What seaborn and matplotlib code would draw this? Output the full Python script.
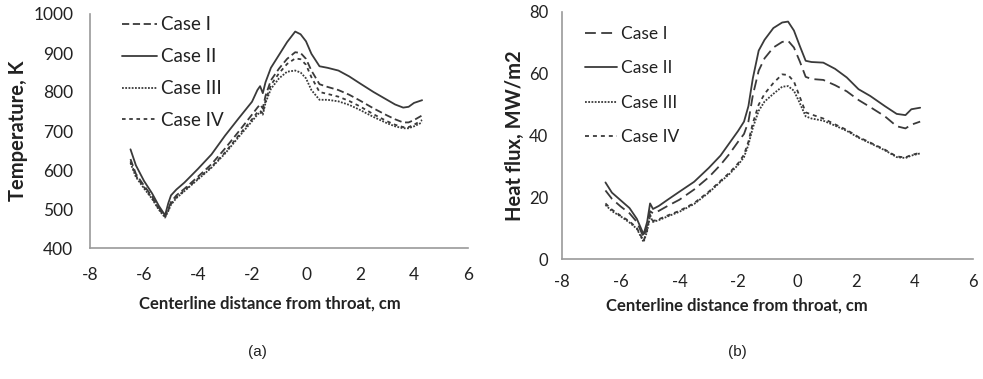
import matplotlib
matplotlib.use("Agg")
import matplotlib.pyplot as plt
import seaborn as sns
import pandas as pd
from matplotlib.ticker import MultipleLocator

# ---------------- data ----------------
cases = ["Case I", "Case II", "Case III", "Case IV"]

temp_x = [-6.5, -6.3, -6.0, -5.7, -5.45, -5.22, -5.1, -5.0, -4.8, -4.5, -4.0, -3.5, -3.0, -2.5,
          -2.0, -1.8, -1.7, -1.6, -1.5, -1.3, -1.0, -0.7, -0.4, -0.2, 0.0, 0.2, 0.5, 0.8, 1.2,
          1.6, 2.0, 2.5, 3.0, 3.3, 3.6, 3.8, 4.0, 4.3]
temp_case1 = [628, 590, 560, 532, 503, 482, 500, 518, 535, 552, 583, 615, 655, 698, 742, 760, 768,
              758, 790, 830, 860, 885, 902, 900, 885, 855, 820, 813, 805, 793, 778, 758, 740, 730,
              722, 722, 728, 740]
temp_case2 = [653, 612, 572, 540, 508, 484, 515, 535, 550, 568, 603, 640, 688, 732, 775, 805, 815,
              797, 825, 862, 895, 928, 955, 948, 930, 898, 866, 862, 855, 840, 822, 800, 780, 768,
              760, 762, 772, 779]
temp_case3 = [618, 582, 553, 526, 498, 478, 495, 511, 528, 546, 576, 606, 642, 684, 725, 742, 748,
              742, 772, 808, 835, 852, 855, 850, 835, 805, 780, 780, 776, 767, 754, 736, 720, 712,
              707, 707, 712, 722]
temp_case4 = [622, 585, 556, 528, 500, 480, 497, 513, 530, 548, 578, 608, 645, 688, 730, 748, 752,
              745, 778, 818, 848, 872, 886, 884, 870, 838, 800, 795, 788, 777, 763, 743, 725, 716,
              710, 710, 716, 728]

flux_x = [-6.52, -6.3, -6.0, -5.7, -5.45, -5.22, -5.1, -5.0, -4.9, -4.7, -4.4, -4.0, -3.5, -3.0,
          -2.6, -2.3, -2.0, -1.8, -1.65, -1.5, -1.3, -1.1, -0.8, -0.5, -0.3, -0.1, 0.1, 0.3, 0.5,
          0.9, 1.3, 1.7, 2.1, 2.5, 3.0, 3.4, 3.7, 3.9, 4.2]
flux_case1 = [22.2, 19.5, 17.0, 14.8, 12.0, 7.0, 11.0, 15.5, 14.8, 15.6, 17.2, 19.2, 22.5, 26.5,
              30.5, 34.0, 38.0, 40.5, 44.5, 53.0, 61.0, 65.0, 68.5, 70.3, 70.7, 68.5, 64.0, 59.0,
              58.3, 58.0, 56.3, 54.3, 51.5, 49.2, 46.2, 43.0, 42.3, 43.5, 44.5]
flux_case2 = [24.8, 21.5, 19.0, 16.5, 13.0, 8.0, 12.0, 18.0, 16.2, 17.2, 19.2, 21.8, 25.0, 29.5,
              33.5, 37.5, 41.5, 44.5, 49.5, 58.5, 67.5, 71.0, 74.8, 76.6, 76.9, 74.0, 69.0, 64.2,
              63.8, 63.6, 61.6, 58.8, 55.0, 52.8, 49.5, 47.0, 46.6, 48.5, 49.0]
flux_case3 = [17.5, 15.5, 13.8, 11.8, 9.8, 5.5, 9.0, 14.0, 12.0, 12.6, 13.8, 15.3, 17.8, 21.5,
              25.0, 27.5, 30.5, 33.0, 37.0, 42.5, 48.0, 51.0, 53.5, 55.8, 56.0, 54.5, 50.5, 46.2,
              45.5, 44.8, 43.2, 41.5, 39.3, 37.5, 35.2, 33.0, 32.7, 33.5, 34.2]
flux_case4 = [18.0, 16.0, 14.0, 12.2, 10.0, 5.8, 9.5, 14.3, 12.3, 12.9, 14.1, 15.6, 18.1, 21.8,
              25.3, 27.9, 31.0, 33.8, 38.0, 44.0, 50.0, 53.5, 57.0, 59.8, 59.6, 57.5, 52.5, 47.5,
              46.8, 45.5, 43.6, 41.8, 39.5, 37.7, 35.4, 33.2, 32.9, 33.7, 34.4]

x_ticks = [-8, -6, -4, -2, 0, 2, 4, 6]
temp_ticks = [400, 500, 600, 700, 800, 900, 1000]
flux_ticks = [0, 20, 40, 60, 80]

# ---------------- style ----------------
sns.set_style("white")
plt.rcParams["font.family"] = ["Lato", "DejaVu Sans"]

W, H = 983, 379
fig = plt.figure(figsize=(W / 100, H / 100), dpi=100)

def fig_rect(l, t, r, b):
    return [l / W, 1 - b / H, (r - l) / W, (b - t) / H]

axL = fig.add_axes(fig_rect(90, 14, 468, 248))
axR = fig.add_axes(fig_rect(562, 12, 973, 259))

line_col = "#3a3a3a"
styles_L = {"Case I": (0, (4, 2)), "Case II": "-", "Case III": (0, (1, 0.8)), "Case IV": (0, (2, 2))}
styles_R = {"Case I": (0, (6, 3)), "Case II": "-", "Case III": (0, (1, 0.8)), "Case IV": (0, (2.2, 2.2))}

temp_vals = [temp_case1, temp_case2, temp_case3, temp_case4]
flux_vals = [flux_case1, flux_case2, flux_case3, flux_case4]

for name, vals in zip(cases, temp_vals):
    df = pd.DataFrame({"x": temp_x, "y": vals})
    sns.lineplot(data=df, x="x", y="y", ax=axL, color=line_col, lw=1.3,
                 linestyle=styles_L[name], label=name, estimator=None, sort=False)
for name, vals in zip(cases, flux_vals):
    df = pd.DataFrame({"x": flux_x, "y": vals})
    sns.lineplot(data=df, x="x", y="y", ax=axR, color=line_col, lw=1.3,
                 linestyle=styles_R[name], label=name, estimator=None, sort=False)

spine_col = "#9a9a9a"
for ax, yt, ylab, yminor, pads, tsize in [
    (axL, temp_ticks, "Temperature, K", 50, (14, 12), 12.5),
    (axR, flux_ticks, "Heat flux, MW/m2", 10, (11, 10), 12),
]:
    ax.set_xlim(-8, 6)
    ax.set_ylim(yt[0], yt[-1])
    ax.set_xticks(x_ticks)
    ax.set_yticks(yt)
    ax.set_xticklabels([str(v) for v in x_ticks])
    ax.set_yticklabels([str(v) for v in yt])
    ax.xaxis.set_minor_locator(MultipleLocator(1))
    ax.yaxis.set_minor_locator(MultipleLocator(yminor))
    for s in ["top", "right"]:
        ax.spines[s].set_visible(False)
    for s in ["left", "bottom"]:
        ax.spines[s].set_color(spine_col)
        ax.spines[s].set_linewidth(1.2)
    ax.tick_params(which="both", direction="in", length=4, width=1, color=spine_col,
                   labelsize=tsize, labelcolor="#222222")
    ax.tick_params(axis="x", which="major", pad=pads[0])
    ax.tick_params(axis="y", which="major", pad=pads[1])
    ax.set_xlabel("Centerline distance from throat, cm", fontsize=12, fontweight="bold",
                  color="#222222")
    ax.set_ylabel(ylab, fontsize=14.5, fontweight="bold", color="#222222")

axL.xaxis.set_label_coords(0.476, -0.205)
axL.yaxis.set_label_coords(-0.165, 0.5)
axR.xaxis.set_label_coords(0.426, -0.155)
axR.yaxis.set_label_coords(-0.09, 0.5)

axL.legend(loc="upper left", bbox_to_anchor=(122 / W, 1 - 16.5 / H), bbox_transform=fig.transFigure,
           frameon=False, fontsize=13.5, handlelength=1.87, handletextpad=0.2, labelspacing=0.79,
           borderpad=0, borderaxespad=0, labelcolor="#222222")
axR.legend(loc="upper left", bbox_to_anchor=(585 / W, 1 - 26 / H), bbox_transform=fig.transFigure,
           frameon=False, fontsize=12.5, handlelength=1.85, handletextpad=0.2, labelspacing=1.06,
           borderpad=0, borderaxespad=0, labelcolor="#222222")

fig.text(257 / W, 1 - 352 / H, "(a)", ha="center", va="center", fontsize=11,
         family=["Liberation Sans", "DejaVu Sans"], color="#222222")
fig.text(737 / W, 1 - 352 / H, "(b)", ha="center", va="center", fontsize=11,
         family=["Liberation Sans", "DejaVu Sans"], color="#222222")

fig.savefig("out.png", dpi=100)
